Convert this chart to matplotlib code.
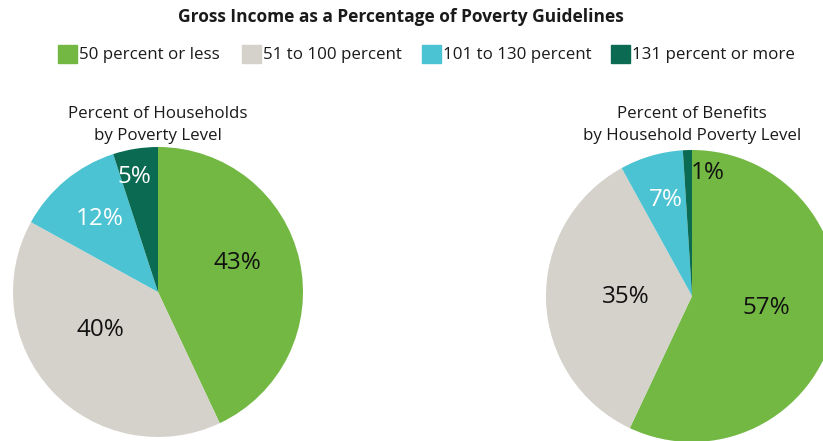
import matplotlib.pyplot as plt

# data
categories = ["50 percent or less", "51 to 100 percent", "101 to 130 percent", "131 percent or more"]
households = [43, 40, 12, 5]
benefits = [57, 35, 7, 1]

colors = ["#72b843", "#d5d2cb", "#4cc3d2", "#0b6b52"]

plt.rcParams['font.family'] = ['Open Sans', 'DejaVu Sans']

fig = plt.figure(figsize=(8.23, 4.41), dpi=100)
W, H = 823, 441

def pie_axes(cx, cy, r):
    return fig.add_axes([(cx - r) / W, (H - cy - r) / H, 2 * r / W, 2 * r / H])

fig.text(401 / W, 1 - 17 / H, "Gross Income as a Percentage of Poverty Guidelines",
         ha="center", va="center", fontsize=12.5, fontweight="bold", color="#1a1a1a")

# legend row
leg_x = [58, 242, 422, 611]
for x, c, lab in zip(leg_x, colors, categories):
    fig.patches.append(plt.Rectangle((x / W, 1 - 63 / H), 19 / W, 18 / H,
                                     transform=fig.transFigure, color=c))
    fig.text((x + 21) / W, 1 - 55 / H, lab, ha="left", va="center", fontsize=12.2,
             color="#1a1a1a")

def draw(ax, vals, title, lab_pos, lab_col, ty):
    wedges, _ = ax.pie(vals, colors=colors, startangle=90, counterclock=False,
                       radius=1, wedgeprops=dict(linewidth=0))
    ax.set_xlim(-1, 1)
    ax.set_ylim(-1, 1)
    ax.set_aspect("equal")
    ax.axis("off")
    for v, (x, y), c in zip(vals, lab_pos, lab_col):
        ax.text(x, y, f"{v}%", ha="center", va="center", fontsize=17.5, color=c)
    ax.text(0, ty, title, ha="center", va="bottom", fontsize=12.2, color="#1a1a1a",
            linespacing=1.5)

ax1 = pie_axes(158, 292, 145)
draw(ax1, households, "Percent of Households\nby Poverty Level",
     [(0.55, 0.20), (-0.40, -0.26), (-0.40, 0.50), (-0.16, 0.79)],
     ["#111111", "#111111", "white", "white"], 1.02)

ax2 = pie_axes(692, 296, 146)
draw(ax2, benefits, "Percent of Benefits\nby Household Poverty Level",
     [(0.51, -0.08), (-0.45, -0.01), (-0.18, 0.66), (0.11, 0.84)],
     ["#111111", "#111111", "white", "#111111"], 1.04)

fig.savefig("out.png", dpi=100)
